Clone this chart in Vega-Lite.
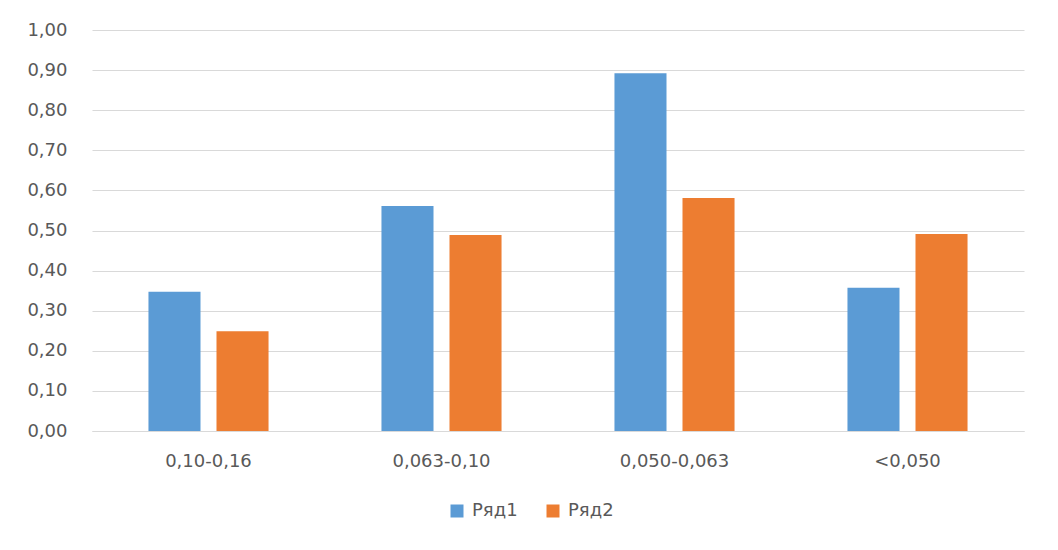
{
  "$schema": "https://vega.github.io/schema/vega-lite/v6.json",
  "width": 932,
  "height": 401,
  "autosize": {"type": "none"},
  "padding": {"left": 92, "top": 30, "right": 34, "bottom": 119},
  "background": "white",
  "config": {
    "view": {"stroke": null},
    "font": "DejaVu Sans",
    "axis": {"labelFont": "DejaVu Sans", "labelColor": "#595959", "titleColor": "#595959"}
  },
  "data": {
    "values": [
      {"cat": "0,10-0,16", "series": "Ряд1", "value": 0.347},
      {"cat": "0,10-0,16", "series": "Ряд2", "value": 0.249},
      {"cat": "0,063-0,10", "series": "Ряд1", "value": 0.561},
      {"cat": "0,063-0,10", "series": "Ряд2", "value": 0.489},
      {"cat": "0,050-0,063", "series": "Ряд1", "value": 0.892},
      {"cat": "0,050-0,063", "series": "Ряд2", "value": 0.581},
      {"cat": "<0,050", "series": "Ряд1", "value": 0.357},
      {"cat": "<0,050", "series": "Ряд2", "value": 0.491}
    ]
  },
  "mark": {"type": "bar"},
  "encoding": {
    "x": {
      "field": "cat",
      "type": "nominal",
      "sort": null,
      "scale": {"paddingInner": 0, "paddingOuter": 0},
      "axis": {
        "title": null,
        "labelAngle": 0,
        "labelFontSize": 18,
        "labelPadding": 21,
        "ticks": false,
        "domainColor": "#D9D9D9",
        "domainWidth": 1
      }
    },
    "xOffset": {
      "field": "series",
      "type": "nominal",
      "scale": {"paddingInner": 0.235, "paddingOuter": 0.83}
    },
    "y": {
      "field": "value",
      "type": "quantitative",
      "scale": {"domain": [0, 1], "nice": false},
      "axis": {
        "title": null,
        "values": [0, 0.1, 0.2, 0.3, 0.4, 0.5, 0.6, 0.7, 0.8, 0.9, 1.0],
        "labelExpr": "replace(format(datum.value, '.2f'), '.', ',')",
        "labelFontSize": 18,
        "labelPadding": 25,
        "ticks": false,
        "domain": false,
        "gridColor": "#D9D9D9",
        "gridWidth": 1
      }
    },
    "color": {
      "field": "series",
      "type": "nominal",
      "scale": {"domain": ["Ряд1", "Ряд2"], "range": ["#5B9BD5", "#ED7D31"]},
      "legend": {
        "title": null,
        "orient": "none",
        "direction": "horizontal",
        "legendX": 356,
        "legendY": 472,
        "padding": 0,
        "symbolType": "square",
        "symbolSize": 169,
        "symbolStrokeWidth": 0,
        "labelFontSize": 18,
        "labelColor": "#595959",
        "labelFont": "DejaVu Sans",
        "labelOffset": 6,
        "columnPadding": 26
      }
    }
  }
}
